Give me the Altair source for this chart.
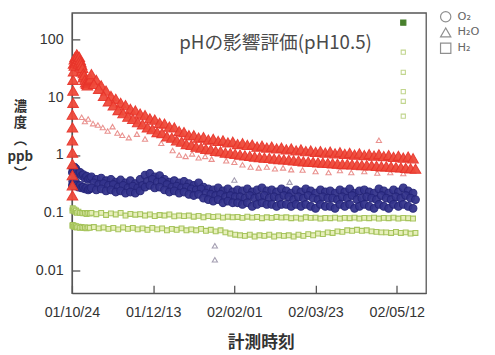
import altair as alt
import pandas as pd

# ---------------- data ----------------
X_TICK_DAYS = [0, 50, 100, 150, 200]
X_TICK_LABELS = ["01/10/24", "01/12/13", "02/02/01", "02/03/23", "02/05/12"]
Y_TICKS = [0.01, 0.1, 1, 10, 100]
SERIES = ["O₂", "H₂O", "H₂"]
SHAPES = ["circle", "triangle-up", "square"]
PLOT_TITLE = "pHの影響評価(pH10.5)"

DAYS = list(range(12, 211, 3))          # sampling grid (days since 01/10/24)
DAYS_B = [d + 1.5 for d in DAYS]

# H2O (red) : start-up peak
H2O_EARLY_DAYS = [0.3, 0.3, 0.3, 0.3, 0.3, 0.3, 0.3, 0.3, 0.7, 0.7, 0.7, 1, 1, 1.5, 1.5, 2, 2, 2.5, 3, 3, 3.5,
                  4, 4, 4.5, 5, 5, 5.5, 6, 6, 6.5, 7, 7, 7.5, 8, 8.5, 9, 9.5, 10, 10.5, 11, 11.5]
H2O_EARLY_VALS = [0.2, 0.3, 0.45, 0.7, 1.1, 1.8, 3, 5, 8, 13, 20, 28, 38, 35, 45, 40, 50, 48, 42, 55, 52,
                  46, 38, 50, 44, 34, 40, 36, 28, 32, 26, 22, 24, 20, 18, 17, 16, 18, 19, 20, 21]
H2O_A = [25, 20, 16, 13, 10.5, 9.4, 8.0, 7.3, 6.3, 5.9,
         5.2, 4.9, 4.3, 4.1, 3.6, 3.5, 3.1, 3.0, 2.6, 2.5,
         2.2, 2.2, 2.0, 2.05, 1.85, 1.9, 1.75, 1.8, 1.65, 1.7,
         1.55, 1.6, 1.5, 1.52, 1.4, 1.45, 1.35, 1.4, 1.3, 1.34,
         1.25, 1.3, 1.2, 1.25, 1.17, 1.2, 1.13, 1.17, 1.1, 1.15,
         1.07, 1.12, 1.05, 1.09, 1.02, 1.07, 1.0, 1.04, 0.98, 1.03,
         0.96, 1.0, 0.93, 0.97, 0.9, 0.94, 0.88]
H2O_B = [17, 14, 10.5, 8.5, 7.2, 6.0, 5.3, 4.6, 4.2, 3.7,
         3.4, 3.0, 2.8, 2.5, 2.4, 2.1, 2.0, 1.8, 1.7, 1.55,
         1.5, 1.4, 1.35, 1.28, 1.25, 1.18, 1.16, 1.1, 1.08, 1.05,
         1.02, 0.99, 0.97, 0.94, 0.92, 0.9, 0.89, 0.87, 0.85, 0.84,
         0.83, 0.81, 0.8, 0.78, 0.77, 0.76, 0.75, 0.74, 0.73, 0.72,
         0.71, 0.7, 0.7, 0.69, 0.68, 0.67, 0.67, 0.66, 0.65, 0.64,
         0.64, 0.63, 0.62, 0.61, 0.6, 0.59, 0.58]
H2O_LOW_DAYS = [6, 8, 10, 13, 16, 19, 22, 25, 28, 31,
                35, 40, 45, 55, 62, 66, 70, 74, 78, 82,
                86, 95, 100, 105, 110, 115, 120, 125, 130, 135,
                142, 150, 158, 165, 172, 180, 188, 196, 204, 189]
H2O_LOW_VALS = [4.5, 3.8, 4.2, 3.5, 3.3, 3.0, 2.6, 3.1, 2.4, 2.2,
                2.0, 2.3, 1.9, 1.6, 1.2, 1.0, 0.95, 1.05, 0.9, 0.95,
                0.85, 0.8, 0.75, 0.68, 0.62, 0.6, 0.62, 0.58, 0.6, 0.56,
                0.55, 0.52, 0.5, 0.54, 0.5, 0.52, 0.49, 0.5, 0.48, 1.8]
H2O_OUT_DAYS = [88, 88, 100, 134]
H2O_OUT_VALS = [0.027, 0.0155, 0.37, 0.34]

# O2 (navy)
EARLY_DAYS = [0.3, 0.5, 1, 1.5, 2, 2.5, 3, 4, 5, 6, 7, 8, 9, 10, 11]
O2_EARLY_A = [0.5, 0.6, 0.55, 0.62, 0.5, 0.58, 0.52, 0.48, 0.5, 0.44, 0.46, 0.4, 0.43, 0.38, 0.4]
O2_EARLY_B = [0.3, 0.35, 0.32, 0.36, 0.3, 0.33, 0.3, 0.28, 0.3, 0.27, 0.28, 0.26, 0.27, 0.25, 0.26]
O2_A = [0.42, 0.38, 0.4, 0.36, 0.38, 0.34, 0.37, 0.33, 0.36, 0.32,
        0.38, 0.45, 0.48, 0.42, 0.44, 0.38, 0.34, 0.36, 0.33, 0.35,
        0.32, 0.3, 0.33, 0.28, 0.26, 0.25, 0.27, 0.24, 0.26, 0.23,
        0.25, 0.24, 0.26, 0.23, 0.25, 0.27, 0.24, 0.25, 0.23, 0.26,
        0.24, 0.22, 0.25, 0.23, 0.26, 0.24, 0.22, 0.25, 0.23, 0.24,
        0.22, 0.25, 0.23, 0.26, 0.22, 0.24, 0.25, 0.23, 0.22, 0.26,
        0.24, 0.22, 0.25, 0.23, 0.27, 0.24, 0.22]
O2_C = [0.33, 0.31, 0.32, 0.3, 0.31, 0.28, 0.3, 0.27, 0.29, 0.27,
        0.3, 0.35, 0.38, 0.34, 0.35, 0.31, 0.28, 0.29, 0.27, 0.28,
        0.26, 0.25, 0.26, 0.22, 0.21, 0.2, 0.21, 0.19, 0.2, 0.19,
        0.19, 0.18, 0.2, 0.18, 0.19, 0.2, 0.18, 0.19, 0.18, 0.2,
        0.19, 0.17, 0.19, 0.18, 0.2, 0.18, 0.17, 0.19, 0.18, 0.18,
        0.17, 0.19, 0.18, 0.2, 0.17, 0.18, 0.19, 0.18, 0.17, 0.2,
        0.18, 0.17, 0.19, 0.18, 0.2, 0.18, 0.17]
O2_B = [0.27, 0.25, 0.26, 0.24, 0.25, 0.23, 0.24, 0.22, 0.23, 0.22,
        0.24, 0.28, 0.3, 0.27, 0.28, 0.25, 0.23, 0.24, 0.22, 0.23,
        0.21, 0.2, 0.21, 0.18, 0.17, 0.16, 0.17, 0.15, 0.16, 0.15,
        0.15, 0.14, 0.15, 0.13, 0.14, 0.15, 0.14, 0.14, 0.13, 0.14,
        0.14, 0.13, 0.14, 0.13, 0.14, 0.13, 0.12, 0.14, 0.13, 0.13,
        0.12, 0.14, 0.13, 0.14, 0.12, 0.13, 0.14, 0.13, 0.12, 0.14,
        0.13, 0.12, 0.14, 0.13, 0.14, 0.13, 0.12]

# H2 (green, two bands)
H2A_EARLY = [0.11, 0.12, 0.11, 0.115, 0.105, 0.11, 0.1, 0.105, 0.1, 0.1, 0.098, 0.1, 0.096, 0.1, 0.097]
H2B_EARLY = [0.06, 0.062, 0.058, 0.06, 0.057, 0.059, 0.056, 0.058, 0.055, 0.057, 0.055, 0.056, 0.054, 0.056, 0.055]
H2_A = [0.1, 0.095, 0.1, 0.092, 0.098, 0.094, 0.1, 0.09, 0.096, 0.093,
        0.095, 0.09, 0.094, 0.088, 0.092, 0.09, 0.094, 0.087, 0.09, 0.088,
        0.09, 0.086, 0.089, 0.084, 0.088, 0.085, 0.087, 0.083, 0.086, 0.084,
        0.085, 0.082, 0.086, 0.083, 0.085, 0.081, 0.084, 0.082, 0.085, 0.083,
        0.084, 0.081, 0.083, 0.08, 0.084, 0.082, 0.083, 0.08, 0.082, 0.081,
        0.083, 0.08, 0.082, 0.081, 0.083, 0.08, 0.082, 0.081, 0.083, 0.08,
        0.082, 0.081, 0.083, 0.08, 0.082, 0.081, 0.08]
H2_B = [0.057, 0.054, 0.056, 0.053, 0.055, 0.052, 0.056, 0.053, 0.055, 0.052,
        0.054, 0.051, 0.055, 0.052, 0.054, 0.05, 0.053, 0.051, 0.054, 0.05,
        0.052, 0.05, 0.053, 0.049, 0.051, 0.048, 0.05, 0.046, 0.044, 0.042,
        0.041, 0.04, 0.042, 0.039, 0.041, 0.04, 0.042, 0.039, 0.041, 0.04,
        0.041, 0.039, 0.042, 0.04, 0.043, 0.041, 0.044, 0.043, 0.046, 0.045,
        0.048, 0.047, 0.05, 0.049, 0.051, 0.049, 0.05, 0.048, 0.047, 0.046,
        0.046, 0.045, 0.047, 0.045, 0.046, 0.044, 0.045]
H2_TOP_DAYS = [204]
H2_TOP_VALS = [195]
H2_OUT_DAYS = [204, 204, 204, 204, 204]
H2_OUT_VALS = [60, 27, 12.5, 8.5, 4.7]

GROUPS = ["H2", "H2_out", "H2_top", "O2", "H2O", "H2O_low", "H2O_out"]
STROKES = ["#a3c257", "#bfd489", "#3f7a22", "#26267a", "#e8352b", "#e98d8a", "#a09aae"]
FILLS = ["#e6efb8", "#ffffff", "#3f7a22", "#34348c", "#ef4a3a", "#ffffff", "#ffffff"]
SIZES = [24, 18, 28, 62, 115, 28, 28]
SIZE_OF = dict(zip(GROUPS, SIZES))

rows = []


def add(days, vals, series, group):
    for d, v in zip(days, vals):
        rows.append({"day": d, "value": v, "series": series, "group": group, "sz": SIZE_OF[group]})


add(EARLY_DAYS, H2A_EARLY, "H₂", "H2")
add(EARLY_DAYS, H2B_EARLY, "H₂", "H2")
add(DAYS, H2_A, "H₂", "H2")
add(DAYS_B, H2_B, "H₂", "H2")
add(H2_OUT_DAYS, H2_OUT_VALS, "H₂", "H2_out")
add(H2_TOP_DAYS, H2_TOP_VALS, "H₂", "H2_top")
add(EARLY_DAYS, O2_EARLY_A, "O₂", "O2")
add(EARLY_DAYS, O2_EARLY_B, "O₂", "O2")
add(DAYS, O2_A, "O₂", "O2")
add(DAYS_B, O2_C, "O₂", "O2")
add(DAYS, O2_B, "O₂", "O2")
add(H2O_LOW_DAYS, H2O_LOW_VALS, "H₂O", "H2O_low")
add(H2O_OUT_DAYS, H2O_OUT_VALS, "H₂O", "H2O_out")
add(H2O_EARLY_DAYS, H2O_EARLY_VALS, "H₂O", "H2O")
add(DAYS, H2O_A, "H₂O", "H2O")
add(DAYS_B, H2O_B, "H₂O", "H2O")
for i, r in enumerate(rows):
    r["i"] = i
df = pd.DataFrame(rows)

label_expr = "[" + ",".join("'%s'" % s for s in X_TICK_LABELS) + "][round(datum.value / 50)]"

points = alt.Chart(df).mark_point(filled=False, strokeWidth=1.1, opacity=0.95).encode(
    x=alt.X("day:Q",
            scale=alt.Scale(domain=[0, 218], nice=False, zero=False),
            axis=alt.Axis(values=X_TICK_DAYS, labelExpr=label_expr, grid=False,
                          labelOverlap=False, labelFlush=False,
                          title="計測時刻", titleX=192, titleY=50, titleFontSize=17,
                          titleAlign="center", titleBaseline="middle",
                          labelPadding=21)),
    y=alt.Y("value:Q",
            scale=alt.Scale(type="log", domain=[0.0041, 288], nice=False),
            axis=alt.Axis(values=Y_TICKS, format="~g", grid=False,
                          labelOverlap=False, labelFlush=False,
                          title=["濃", "度", "︵", "ppb", "︶"], titleAngle=0,
                          titleX=-53, titleY=95, titleAlign="center",
                          titleBaseline="middle", titleLineHeight=17, titleFontSize=13.5,
                          labelPadding=17)),
    shape=alt.Shape("series:N", scale=alt.Scale(domain=SERIES, range=SHAPES),
                    legend=alt.Legend(title=None, orient="none", legendX=374, legendY=-2,
                                      symbolStrokeColor="#8a8a8a", symbolFillColor="white",
                                      symbolSize=110, symbolStrokeWidth=1.2,
                                      labelFontSize=11.5, labelColor="#666666", labelOffset=6,
                                      labelFont="DejaVu Sans", rowPadding=1)),
    color=alt.Color("group:N", scale=alt.Scale(domain=GROUPS, range=STROKES), legend=None),
    fill=alt.Fill("group:N", scale=alt.Scale(domain=GROUPS, range=FILLS), legend=None),
    size=alt.Size("sz:Q", scale=None, legend=None),
    order=alt.Order("i:Q"),
)

title_layer = alt.Chart(pd.DataFrame({"t": [PLOT_TITLE]})).mark_text(
    font="Noto Sans CJK JP", fontSize=19, color="#4a4a4a", align="center", baseline="middle"
).encode(text="t:N", x=alt.value(207), y=alt.value(31))

chart = alt.layer(points, title_layer).properties(
    width=360, height=285,
    autosize=alt.AutoSizeParams(type="none"),
    padding={"left": 65, "top": 2, "right": 62, "bottom": 60},
).configure_view(stroke="#555555", strokeWidth=1.3).configure_axis(
    domainColor="#555555", domainWidth=1.3, tickColor="#555555", tickWidth=1.3,
    tickSize=alt.ExprRef(expr="-8"),
    labelFont="Liberation Sans", labelFontSize=14.5, labelColor="#333333",
    titleFont="Noto Sans CJK JP", titleFontWeight="bold", titleColor="#333333",
)

chart.save("out.html", embed_options={"renderer": "svg", "actions": False})
